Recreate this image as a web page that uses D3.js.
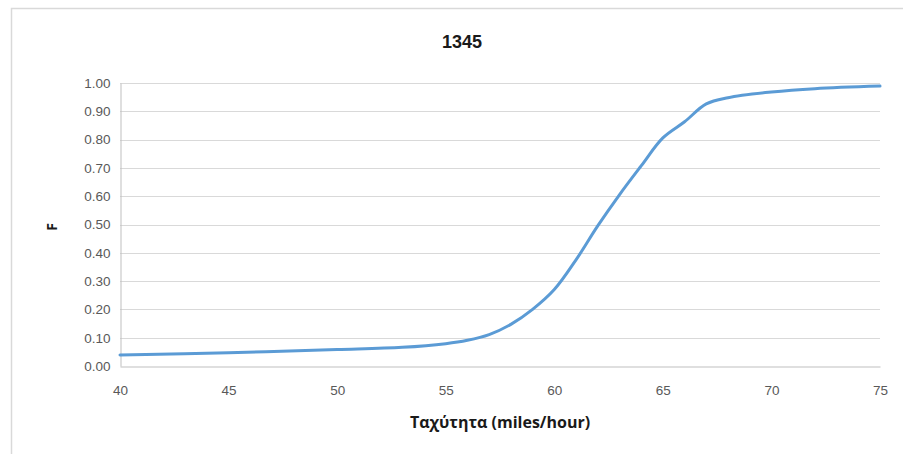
<!DOCTYPE html>
<html>
<head>
<meta charset="utf-8">
<script src="https://cdn.jsdelivr.net/npm/d3@7"></script>
<style>
  body { margin: 0; background: #fff; }
  svg { display: block; }
  .tick text { font-family: "Liberation Sans Narrow", "Liberation Sans", sans-serif; font-size: 13.5px; fill: #595959; }
</style>
</head>
<body>
<svg id="chart" width="903" height="454"></svg>
<script>
// speed (miles/hour) and cumulative F
var speed = [40, 45, 50, 53, 55, 56, 57, 58, 59, 60, 61, 62, 63, 64, 65, 66, 67, 68, 70, 72, 75];
var F = [0.039, 0.047, 0.058, 0.066, 0.079, 0.091, 0.111, 0.147, 0.2, 0.27, 0.375, 0.495, 0.605, 0.707, 0.806, 0.863, 0.926, 0.948, 0.968, 0.98, 0.989];
var xTicks = [40, 45, 50, 55, 60, 65, 70, 75];
var yTicks = [0, 0.1, 0.2, 0.3, 0.4, 0.5, 0.6, 0.7, 0.8, 0.9, 1.0];
var chartTitle = "1345";
var xTitle = "Ταχύτητα (miles/hour)";
var yTitle = "F";

var svg = d3.select("#chart");
var margin = { left: 120, right: 23, top: 83, bottom: 88 };
var W = 903, H = 454;

// outer frame (top + left edges visible)
svg.append("path")
    .attr("d", "M11.5,454 L11.5,8.5 L903,8.5")
    .attr("fill", "none").attr("stroke", "#d9d9d9").attr("stroke-width", 1.5);

var x = d3.scaleLinear().domain([40, 75]).range([margin.left, W - margin.right]);
var y = d3.scaleLinear().domain([0, 1]).range([H - margin.bottom, margin.top]);

// gridlines
svg.append("g").selectAll("line")
    .data(yTicks.slice(1))
    .enter().append("line")
    .attr("x1", x(40)).attr("x2", x(75))
    .attr("y1", function (d) { return Math.round(y(d)) + 0.5; })
    .attr("y2", function (d) { return Math.round(y(d)) + 0.5; })
    .attr("stroke", "#d9d9d9").attr("stroke-width", 1.2);

// y axis
var yAxis = svg.append("g")
    .attr("transform", "translate(" + (margin.left + 0.5) + ",0)")
    .call(d3.axisLeft(y).tickValues(yTicks).tickFormat(d3.format(".2f")).tickSize(0).tickPadding(10));
yAxis.select(".domain").attr("stroke", "#bfbfbf");

// x axis
var xAxis = svg.append("g")
    .attr("transform", "translate(0," + (Math.round(y(0)) + 0.5) + ")")
    .call(d3.axisBottom(x).tickValues(xTicks).tickFormat(d3.format("d")).tickSize(0).tickPadding(19));
xAxis.select(".domain").attr("stroke", "#bfbfbf").attr("stroke-width", 1.2);

// curve
var line = d3.line()
    .x(function (d, i) { return x(speed[i]); })
    .y(function (d) { return y(d); })
    .curve(d3.curveCatmullRom.alpha(0.5));

svg.append("path")
    .datum(F)
    .attr("d", line)
    .attr("fill", "none")
    .attr("stroke", "#5b9bd5")
    .attr("stroke-width", 3)
    .attr("stroke-linecap", "round");

// titles
svg.append("text")
    .attr("x", 462).attr("y", 48)
    .attr("text-anchor", "middle")
    .style("font-family", "'Liberation Sans Narrow', 'Liberation Sans', sans-serif")
    .style("font-weight", "bold").style("font-size", "18px").style("fill", "#1a1a1a")
    .text(chartTitle);

svg.append("text")
    .attr("x", 500).attr("y", 428)
    .attr("text-anchor", "middle")
    .style("font-family", "'Open Sans', sans-serif")
    .style("font-weight", "bold").style("font-size", "16px").style("fill", "#1a1a1a")
    .text(xTitle);

svg.append("text")
    .attr("transform", "translate(57,227) rotate(-90)")
    .attr("text-anchor", "middle")
    .style("font-family", "'Open Sans', sans-serif")
    .style("font-weight", "bold").style("font-size", "14px").style("fill", "#1a1a1a")
    .text(yTitle);
</script>
</body>
</html>
